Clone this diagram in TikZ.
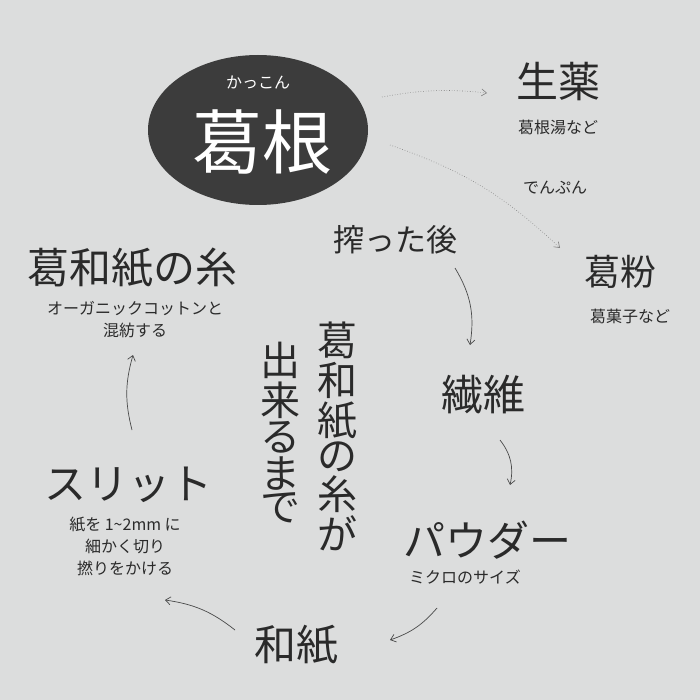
\documentclass[tikz,border=0pt]{standalone}
\usepackage{fontspec}
\setmainfont{Noto Sans CJK JP}
\usetikzlibrary{arrows.meta}
\definecolor{bg}{HTML}{DCDDDD}
\definecolor{dark}{HTML}{3C3C3C}
\definecolor{ink}{HTML}{2A2A2A}
\tikzset{
  big/.style={font=\fontsize{42}{46}\selectfont, text=ink, inner sep=0pt},
  mid/.style={font=\fontsize{31}{34}\selectfont, text=ink, inner sep=0pt},
  small/.style={font=\fontsize{16}{22}\selectfont, text=ink, inner sep=0pt, align=center},
  flow/.style={-{Straight Barb[length=5pt,width=8pt]}, draw=ink!85, line width=0.7pt},
  dots/.style={-{Straight Barb[length=5pt,width=7pt]}, draw=ink!60, line width=0.6pt, dotted}
}
\begin{document}
\begin{tikzpicture}[x=1pt,y=-1pt]
\fill[bg] (0,0) rectangle (700,700);
\useasboundingbox (0,0) rectangle (700,700);
\fill[dark] (258,130) ellipse [x radius=110, y radius=75];
\node[small,text=white] (kana) at (258,82) {かっこん};
\node[font=\fontsize{70}{72}\selectfont,text=white,inner sep=0pt] (kakkon) at (262,142) {葛根};
\node[big] (shoyaku) at (558,82) {生薬};
\node[small] (shoyakusub) at (558,127) {葛根湯など};
\node[small] (denpun) at (555,188) {でんぷん};
\node[font=\fontsize{36}{40}\selectfont,text=ink,inner sep=0pt] (kuzuko) at (620,272) {葛粉};
\node[small] (kuzukosub) at (630,316) {葛菓子など};
\node[mid] (shibori) at (395,240) {搾った後};
\node[big] (seni) at (483,395) {繊維};
\node[big] (powder) at (487,540) {パウダー};
\node[small] (powdersub) at (465,577) {ミクロのサイズ};
\node[big] (washi) at (296,645) {和紙};
\node[big] (slit) at (128,485) {スリット};
\node[small] (slitsub) at (125,546) {紙を 1\char"7E 2mm に\\細かく切り\\撚りをかける};
\node[big] (ito) at (132,268) {葛和紙の糸};
\node[small] (itosub) at (135,320) {オーガニックコットンと\\混紡する};
\node[font=\fontsize{40}{40}\selectfont,text=ink,inner sep=0pt,anchor=north] (v1) at (337,322) {\shortstack{葛\\和\\紙\\の\\糸\\が}};
\node[font=\fontsize{40}{40}\selectfont,text=ink,inner sep=0pt,anchor=north] (v2) at (280,342) {\shortstack{出\\来\\る\\ま\\で}};
\coordinate (a1) at (382,97); \coordinate (b1) at (487,93);
\draw[dots] (a1) to[bend left=8] (b1);
\coordinate (a2) at (390,145); \coordinate (b2) at (560,248);
\draw[dots] (a2) to[bend left=12] (b2);
\coordinate (c1) at (455,268); \coordinate (d1) at (470,345);
\draw[flow] (c1) to[bend left=20] (d1);
\coordinate (c2) at (500,440); \coordinate (d2) at (510,485);
\draw[flow] (c2) to[bend left=25] (d2);
\coordinate (c3) at (437,608); \coordinate (d3) at (390,640);
\draw[flow] (c3) to[bend left=15] (d3);
\coordinate (c4) at (235,630); \coordinate (d4) at (165,600);
\draw[flow] (c4) to[bend right=15] (d4);
\coordinate (c5) at (132,430); \coordinate (d5) at (133,355);
\draw[flow] (c5) to[bend left=15] (d5);
\end{tikzpicture}
\end{document}
